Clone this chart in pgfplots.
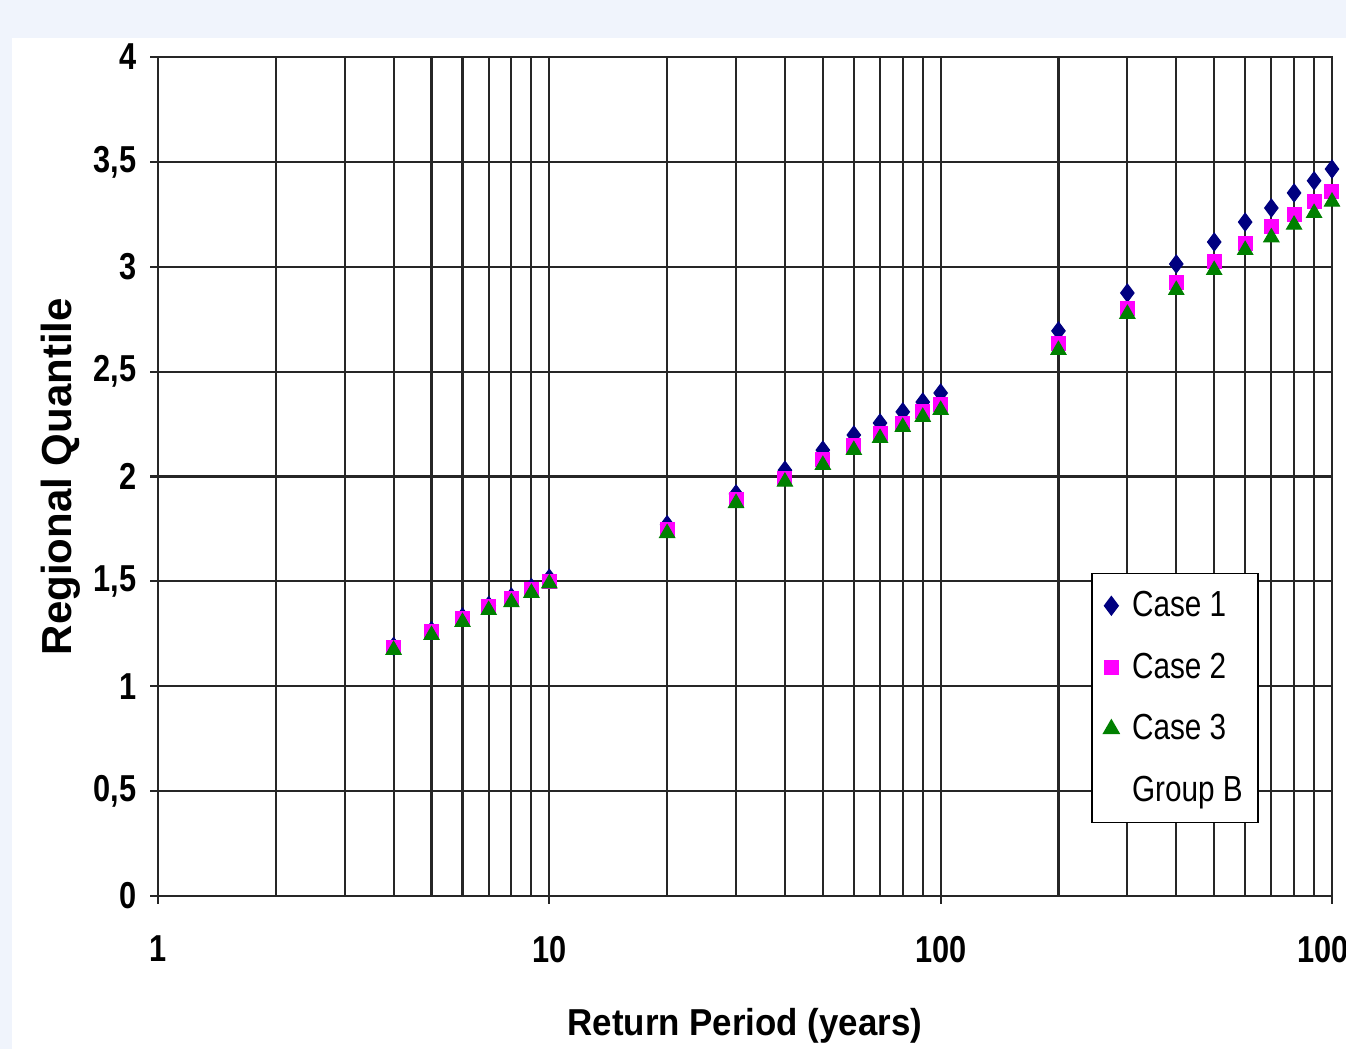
\documentclass[border=0pt]{standalone}
\usepackage{fontspec}
\setmainfont{Liberation Sans}[FakeStretch=0.82]
\newfontfamily\ylabfont{Liberation Sans}
\newfontfamily\xlabfont{Liberation Sans}[FakeStretch=0.93]
\usepackage{pgfplots}
\pgfplotsset{compat=1.18}
\definecolor{bgblue}{RGB}{240,244,252}
\definecolor{cnavy}{RGB}{0,0,128}
\definecolor{cmag}{RGB}{255,0,255}
\definecolor{cgreen}{RGB}{0,128,0}
\begin{document}
\begin{tikzpicture}
\path[use as bounding box] (-63.2pt,-61.2pt) rectangle (475.2pt,358.4pt);
\clip (-63.2pt,-61.2pt) rectangle (475.2pt,358.4pt);
\fill[bgblue] (-63.2pt,-61.2pt) rectangle (475.2pt,358.4pt);
\fill[white] (-58.4pt,-61.2pt) rectangle (475.2pt,343.2pt);
\begin{axis}[
  at={(0,0)}, anchor=south west,
  scale only axis,
  width=469.6pt, height=335.6pt,
  xmode=log,
  xmin=1, xmax=1000, ymin=0, ymax=4,
  xtick={1,10,100,1000},
  xticklabels={1,10,100,1000},
  ytick={0,0.5,1,1.5,2,2.5,3,3.5,4},
  yticklabels={0,{0,5},1,{1,5},2,{2,5},3,{3,5},4},
  grid=both,
  major grid style={black!85, line width=0.85pt},
  minor grid style={black!85, line width=0.85pt},
  axis line style={black!85, line width=0.85pt},
  tick style={black!85, line width=0.85pt},
  tick align=outside,
  major tick length=3.2pt,
  minor tick length=0pt,
  xtick pos=bottom, ytick pos=left,
  tick label style={font=\fontsize{15}{18}\selectfont\bfseries},
  xticklabel style={yshift=-9.2pt},
  yticklabel style={xshift=-2pt},
  xlabel={Return Period (years)},
  ylabel={Regional Quantile},
  xlabel style={font=\fontsize{15}{18}\selectfont\xlabfont\bfseries,
    at={(rel axis cs:0.5,0)}, anchor=base, yshift=-56pt},
  ylabel style={font=\fontsize{16.8}{18}\selectfont\ylabfont\bfseries,
    at={(rel axis cs:0,0.5)}, anchor=base, yshift=34.4pt},
  legend style={at={(0.795,0.385)}, anchor=north west, draw=black, fill=white,
    line width=0.6pt, font=\fontsize{14.5}{18}\selectfont,
    row sep=9pt, inner xsep=4pt, inner ysep=5pt, cells={anchor=west}},
  legend cell align=left,
  legend image code/.code={\draw[#1] plot coordinates {(0.12cm,0cm)};
    \path (0cm,0cm) (0.33cm,0cm);},
]
\addplot[only marks, mark=diamond*, mark size=3.6pt, color=cnavy] coordinates {
(4,1.19) (5,1.265) (6,1.33) (7,1.385) (8,1.425) (9,1.47) (10,1.515)
(20,1.77) (30,1.917) (40,2.03) (50,2.126) (60,2.198) (70,2.255) (80,2.308) (90,2.355) (100,2.398)
(200,2.694) (300,2.875) (400,3.013) (500,3.118) (600,3.213) (700,3.28) (800,3.352) (900,3.41) (1000,3.466)
};
\addlegendentry{Case 1}
\addplot[only marks, mark=square*, mark size=2.8pt, color=cmag] coordinates {
(4,1.187) (5,1.259) (6,1.325) (7,1.378) (8,1.42) (9,1.463) (10,1.50)
(20,1.745) (30,1.888) (40,1.99) (50,2.08) (60,2.15) (70,2.207) (80,2.255) (90,2.308) (100,2.341)
(200,2.636) (300,2.803) (400,2.927) (500,3.023) (600,3.113) (700,3.19) (800,3.247) (900,3.31) (1000,3.36)
};
\addlegendentry{Case 2}
\addplot[only marks, mark=triangle*, mark size=3.5pt, color=cgreen] coordinates {
(4,1.173) (5,1.244) (6,1.306) (7,1.363) (8,1.40) (9,1.445) (10,1.49)
(20,1.73) (30,1.873) (40,1.975) (50,2.055) (60,2.126) (70,2.183) (80,2.236) (90,2.284) (100,2.317)
(200,2.603) (300,2.775) (400,2.889) (500,2.984) (600,3.08) (700,3.14) (800,3.2) (900,3.256) (1000,3.31)
};
\addlegendentry{Case 3}
\addlegendimage{empty legend}
\addlegendentry{Group B}
\end{axis}
\end{tikzpicture}
\end{document}
